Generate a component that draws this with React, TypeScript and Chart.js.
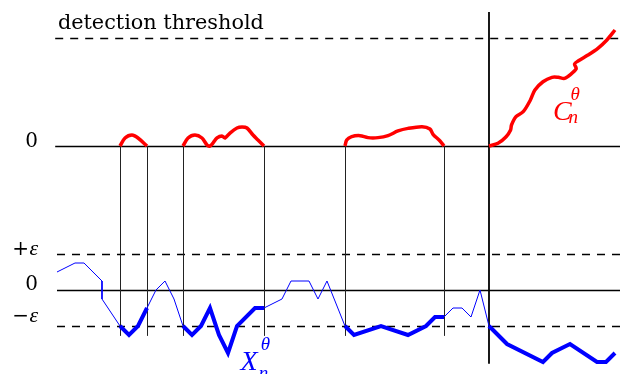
import React, { useEffect, useRef } from "react";
import { Chart, registerables } from "chart.js";

Chart.register(...registerables);

// ---- data ----
// time steps n of the statistic X_n (lower panel)
const statTimes = [0, 2, 3, 5, 5, 7, 8, 9, 10, 11, 12, 13, 14, 15, 16, 17, 18, 19, 20, 22, 23, 25, 26, 28, 29, 30, 32, 33, 36, 39, 41, 42, 43, 44, 45, 46, 47, 48, 50, 54, 55, 57, 60, 61, 62];
const statValues = [2, 3, 3, 1, -1, -4, -5, -4, -2, 0, 1, -1, -4, -5, -4, -2, -5, -7, -4, -2, -2, -1, 1, 1, -1, 1, -4, -5, -4, -5, -4, -3, -3, -2, -2, -3, 0, -4, -6, -8, -7, -6, -8, -8, -7];

// alarm intervals (thin vertical markers) and detection time (thick marker)
const alarmStarts = [7, 14, 32];
const alarmEnds = [10, 23, 43];
const detectionTime = 48;
const lastTime = 62;

// thresholds
const epsilon = 4;
const detectionThreshold = 12;

// CUSUM statistic C_n (upper panel), one list per excursion above 0
const cusumTimes = [
  [7, 7.56, 8.33, 9.0, 10],
  [14, 14.56, 15.33, 16.11, 16.67, 17, 17.33, 17.78, 18.33, 18.67, 19.22, 20, 20.56, 21.11, 21.78, 22.33, 23],
  [32, 32.19, 32.74, 33.67, 34.56, 35.67, 36.78, 37.89, 39, 40.56, 41.44, 41.78, 42.56, 43],
  [48, 49.0, 49.9, 50.4, 50.5, 51.0, 51.8, 52.6, 53.1, 54.0, 55.0, 55.7, 56.4, 57.2, 57.7, 57.5, 57.9, 59.0, 60.1, 61.1, 62.0],
];
const cusumValues = [
  [0, 0.89, 1.22, 0.89, 0],
  [0, 0.89, 1.22, 0.89, 0.11, 0, 0.33, 0.89, 1.11, 0.89, 1.44, 2.0, 2.11, 2.0, 1.22, 0.67, 0],
  [0, 0.67, 1.04, 1.15, 0.93, 0.93, 1.15, 1.67, 1.96, 2.15, 1.89, 1.3, 0.56, 0],
  [0, 0.3, 1.03, 1.78, 2.33, 3.26, 3.81, 5.11, 6.22, 7.14, 7.63, 7.63, 7.52, 8.07, 8.6, 9.1, 9.45, 10.11, 10.86, 11.78, 12.89],
];

const RED = "#ff0000";
const BLUE = "#0000ff";
const BLACK = "#000000";

const intervals = alarmStarts.map((s, i) => [s, alarmEnds[i]]).concat([[detectionTime, lastTime]]);
const isAlarm = (a: number, b: number) => intervals.some(([s, e]) => a >= s && b <= e);

const rulesPlugin = {
  id: "rules",
  beforeDatasetsDraw(chart: any) {
    const { ctx, scales } = chart;
    const x = scales.x, y = scales.y, y2 = scales.y2;
    const right = chart.chartArea.right;
    ctx.save();
    const hline = (scale: any, v: number, x0: number, dashed: boolean) => {
      const py = Math.round(scale.getPixelForValue(v)) + 0.5;
      ctx.beginPath();
      ctx.setLineDash(dashed ? [8, 7] : []);
      ctx.lineWidth = 1.5;
      ctx.strokeStyle = BLACK;
      ctx.moveTo(x.getPixelForValue(x0), py);
      ctx.lineTo(right, py);
      ctx.stroke();
    };
    hline(y2, 0, -0.2, false);
    hline(y2, detectionThreshold, -0.2, true);
    hline(y, 0, 0, false);
    hline(y, epsilon, 0, true);
    hline(y, -epsilon, 0, true);
    ctx.setLineDash([]);
    // alarm markers
    [...alarmStarts, ...alarmEnds].forEach((t) => {
      const px = Math.round(x.getPixelForValue(t)) + 0.5;
      ctx.beginPath();
      ctx.lineWidth = 1;
      ctx.strokeStyle = "#222";
      ctx.moveTo(px, y2.getPixelForValue(0));
      ctx.lineTo(px, y.getPixelForValue(-5.1));
      ctx.stroke();
    });
    const pd = x.getPixelForValue(detectionTime);
    ctx.beginPath();
    ctx.lineWidth = 1.8;
    ctx.strokeStyle = BLACK;
    ctx.moveTo(pd, y2.getPixelForValue(14.9));
    ctx.lineTo(pd, y.getPixelForValue(-8.2));
    ctx.stroke();
    ctx.restore();
  },
  afterDraw(chart: any) {
    const { ctx, scales } = chart;
    const x = scales.x, y = scales.y, y2 = scales.y2;
    ctx.save();
    ctx.fillStyle = BLACK;
    ctx.textBaseline = "alphabetic";
    // title of threshold line
    ctx.font = '20.8px "DejaVu Serif"';
    ctx.textAlign = "left";
    ctx.fillText("detection threshold", x.getPixelForValue(0.1), y2.getPixelForValue(detectionThreshold) - 9);
    // row labels
    ctx.textAlign = "right";
    const lx = x.getPixelForValue(-2.1);
    ctx.font = '20px "DejaVu Serif"';
    ctx.fillText("0", lx, y2.getPixelForValue(0) + 1);
    ctx.fillText("0", lx, y.getPixelForValue(0));
    const epsLabel = (sign: string, py: number) => {
      ctx.font = 'italic 22px "Liberation Serif"';
      ctx.fillText("ε", lx, py);
      const w = ctx.measureText("ε").width;
      ctx.font = '20px "DejaVu Serif"';
      ctx.fillText(sign, lx - w - 0.5, py);
    };
    epsLabel("+", y.getPixelForValue(epsilon) + 1);
    epsLabel("−", y.getPixelForValue(-epsilon) - 4);
    // series labels
    const mathLabel = (color: string, main: string, px: number, py: number, dx: number, subDy: number) => {
      ctx.fillStyle = color;
      ctx.textAlign = "left";
      ctx.font = 'italic 28px "Liberation Serif"';
      ctx.fillText(main, px, py);
      const w = ctx.measureText(main).width;
      ctx.font = 'italic 19px "Liberation Serif"';
      ctx.fillText("θ", px + w - 1 + dx, py - 20);
      ctx.fillText("n", px + w - 3 + dx, py + subDy);
    };
    mathLabel(RED, "C", x.getPixelForValue(55.1), y2.getPixelForValue(2.9), 0, 3);
    mathLabel(BLUE, "X", x.getPixelForValue(20.4), y.getPixelForValue(-8.9), 4, 9);
    ctx.restore();
  },
};

export default function App() {
  const ref = useRef<HTMLCanvasElement | null>(null);
  useEffect(() => {
    if (!ref.current) return;
    const datasets: any[] = cusumTimes.map((ts, k) => ({
      type: "line",
      data: ts.map((t, i) => ({ x: t, y: cusumValues[k][i] })),
      yAxisID: "y2",
      borderColor: RED,
      borderWidth: 3.5,
      tension: 0.3,
      pointRadius: 0,
      fill: false,
    }));
    datasets.push({
      type: "line",
      data: statTimes.map((t, i) => ({ x: t, y: statValues[i] })),
      yAxisID: "y",
      borderColor: BLUE,
      borderWidth: 1,
      tension: 0,
      pointRadius: 0,
      fill: false,
      segment: {
        borderWidth: (c: any) => (isAlarm(statTimes[c.p0DataIndex], statTimes[c.p1DataIndex]) ? 4 : 1),
      },
    });
    const chart = new Chart(ref.current, {
      type: "line",
      data: { datasets },
      options: {
        animation: false,
        responsive: false,
        devicePixelRatio: 1,
        layout: { padding: 0 },
        plugins: { legend: { display: false }, tooltip: { enabled: false } },
        scales: {
          x: { type: "linear", min: -6.333, max: 62.556, display: false },
          y: { type: "linear", min: -9.333, max: 32.222, display: false },
          y2: { type: "linear", min: -25.333, max: 16.222, display: false },
        },
      },
      plugins: [rulesPlugin],
    } as any);
    return () => chart.destroy();
  }, []);
  return (
    <div style={{ position: "absolute", left: 0, top: 0, width: 620, height: 374, background: "#fff" }}>
      <canvas ref={ref} width={620} height={374} />
    </div>
  );
}
